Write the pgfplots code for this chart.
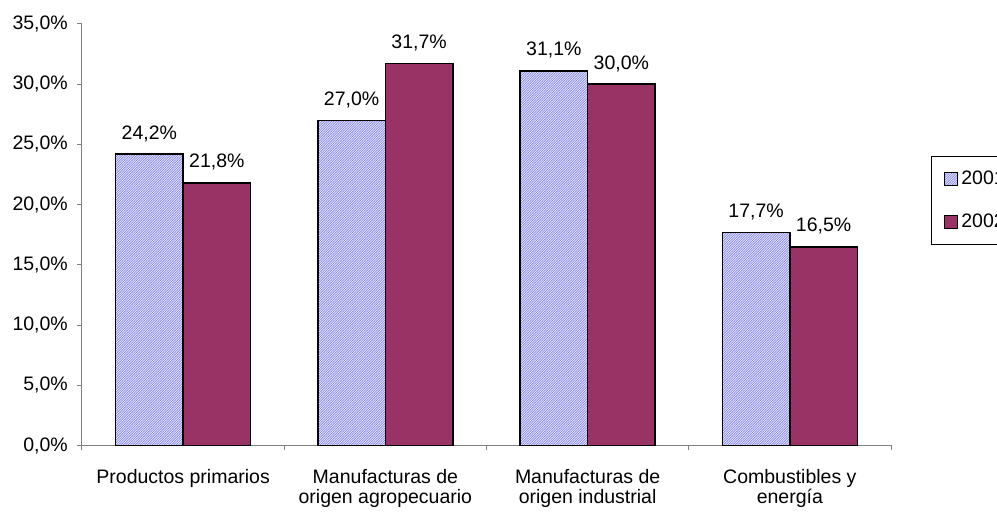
\documentclass[border=0pt]{standalone}
\usepackage{pgfplots}
\pgfplotsset{compat=1.18}
\usetikzlibrary{patterns}
\usepackage{fontspec}
\setmainfont{Liberation Sans}

\definecolor{plum}{RGB}{153,51,102}
\definecolor{peri}{RGB}{140,140,245}
\definecolor{axgray}{RGB}{128,128,128}

\pgfdeclarepatternformonly{fineNE}{\pgfqpoint{-1pt}{-1pt}}{\pgfqpoint{4pt}{4pt}}{\pgfqpoint{2.4pt}{2.4pt}}{%
  \pgfsetlinewidth{0.8pt}%
  \pgfpathmoveto{\pgfqpoint{-0.2pt}{-0.2pt}}%
  \pgfpathlineto{\pgfqpoint{2.6pt}{2.6pt}}%
  \pgfusepath{stroke}}

\pgfplotsset{
  boxlegend/.style={legend image code/.code={\draw[##1,line width=1.2pt] (0pt,-6.5pt) rectangle (13pt,6.5pt);}},
}

\begin{document}
\begin{tikzpicture}
\path[use as bounding box] (-82pt,-67.5pt) rectangle (915pt,445.5pt);
\begin{axis}[
  scale only axis,
  width=809pt, height=421.5pt,
  xmin=0.5, xmax=4.5,
  ymin=0, ymax=35,
  ybar=0pt, bar width=67.5pt,
  axis x line=bottom, axis y line=left,
  axis line style={draw=axgray, line width=1pt, -},
  tick style={draw=axgray, line width=1pt},
  tick align=outside,
  major tick length=5pt,
  font=\fontsize{19.5}{20}\selectfont,
  ytick={0,5,...,35},
  yticklabel={\pgfmathprintnumber[fixed,fixed zerofill,precision=1,use comma]{\tick}\%},
  /pgf/number format/assume math mode=true,
  y tick label style={inner sep=0pt, xshift=-9pt},
  xtick={0.5,1.5,2.5,3.5,4.5},
  xticklabels={},
  extra x ticks={1,2,3,4},
  extra x tick labels={Productos primarios,{Manufacturas de\\origen agropecuario},{Manufacturas de\\origen industrial},{Combustibles y\\energía}},
  extra x tick style={major tick length=0pt},
  x tick label style={align=center, anchor=north, inner sep=0pt, yshift=-23.5pt},
  nodes near coords={\pgfmathprintnumber[fixed,fixed zerofill,precision=1,use comma]{\pgfplotspointmeta}\%},
  every node near coord/.append style={anchor=base, inner sep=0pt, yshift=15pt, text=black},
  legend cell align=left,
  legend style={at={(axis description cs:1.049,0.6875)}, anchor=north west,
    draw=black, line width=1pt, inner xsep=13pt, inner ysep=15pt,
    row sep=28pt, column sep=3pt,
    nodes={inner sep=0pt}},
]
\addplot+[boxlegend, draw=black, line width=1.5pt, fill=white,
  postaction={pattern=fineNE, pattern color=peri}]
  coordinates {(1,24.2) (2,27.0) (3,31.1) (4,17.7)};
\addlegendentry{2001}
\addplot+[boxlegend, draw=black, line width=1.5pt, fill=plum]
  coordinates {(1,21.8) (2,31.7) (3,30.0) (4,16.5)};
\addlegendentry{2002}
\end{axis}
\end{tikzpicture}
\end{document}
